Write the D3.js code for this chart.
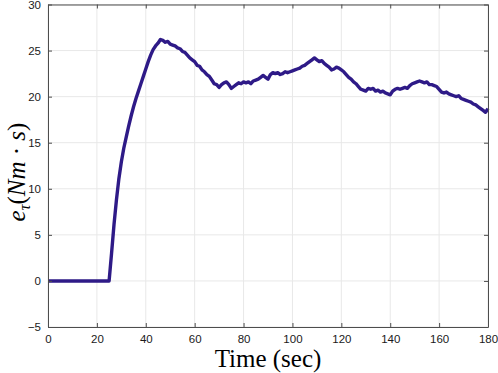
<!DOCTYPE html>
<html>
<head>
<meta charset="utf-8">
<script src="https://cdn.jsdelivr.net/npm/d3@7"></script>
<style>
  body { margin: 0; background: #fff; }
  svg text { font-family: "Liberation Sans", Arial, sans-serif; }
</style>
</head>
<body>
<div id="chart"></div>
<script>
// time (sec) and error values
var times = [0, 25, 26, 27, 28, 29, 30, 31, 32, 33, 34, 35, 36, 37, 38, 39, 40,
  41, 42, 43, 44, 45, 46, 47, 48, 49, 50, 51, 52, 53, 54, 55, 56, 57, 58, 59, 60,
  61, 62, 63, 64, 65, 66, 67, 68, 69, 70, 71, 72, 73, 74, 75, 76, 77, 78, 79, 80,
  81, 82, 83, 84, 85, 86, 87, 88, 89, 90, 91, 92, 93, 94, 95, 96, 97, 98, 99, 100,
  101, 102, 103, 104, 105, 106, 107, 108, 109, 110, 111, 112, 113, 114, 115, 116, 117, 118, 119, 120,
  121, 122, 123, 124, 125, 126, 127, 128, 129, 130, 131, 132, 133, 134, 135, 136, 137, 138, 139, 140,
  141, 142, 143, 144, 145, 146, 147, 148, 149, 150, 151, 152, 153, 154, 155, 156, 157, 158, 159, 160,
  161, 162, 163, 164, 165, 166, 167, 168, 169, 170, 171, 172, 173, 174, 175, 176, 177, 178, 179, 180];

var errTau = [0, 0, 3.0, 6.1, 8.8, 11.1, 12.9, 14.4, 15.6, 16.8, 17.9, 18.9, 19.8, 20.6, 21.4, 22.2, 23.0,
  23.8, 24.5, 25.1, 25.5, 25.8, 26.2, 26.1, 25.9, 26.0, 25.7, 25.6, 25.5, 25.3, 25.2, 24.9, 24.8, 24.5, 24.2, 24.0, 23.8,
  23.4, 23.3, 22.9, 22.7, 22.4, 22.2, 21.8, 21.4, 21.3, 21.0, 21.3, 21.5, 21.6, 21.3, 20.9, 21.1, 21.3, 21.5, 21.4, 21.6,
  21.5, 21.6, 21.4, 21.7, 21.8, 21.9, 22.1, 22.3, 22.1, 21.9, 22.4, 22.6, 22.5, 22.6, 22.4, 22.5, 22.7, 22.6, 22.7, 22.8,
  22.9, 23.0, 23.1, 23.3, 23.4, 23.6, 23.8, 24.0, 24.2, 24.0, 23.8, 23.9, 23.6, 23.4, 23.2, 22.9, 23.0, 23.2, 23.1, 22.9,
  22.7, 22.4, 22.1, 21.9, 21.6, 21.4, 21.1, 20.8, 20.7, 20.6, 20.9, 20.8, 20.9, 20.6, 20.7, 20.5, 20.6, 20.4, 20.3, 20.2,
  20.6, 20.8, 20.9, 20.8, 20.9, 21.0, 20.9, 21.2, 21.4, 21.5, 21.6, 21.7, 21.6, 21.5, 21.6, 21.3, 21.3, 21.2, 21.1, 20.8,
  20.5, 20.4, 20.5, 20.3, 20.2, 20.1, 20.0, 20.1, 19.8, 19.7, 19.6, 19.5, 19.4, 19.2, 19.1, 18.9, 18.7, 18.5, 18.3, 18.7];

var xTicks = [0, 20, 40, 60, 80, 100, 120, 140, 160, 180];
var yTicks = [-5, 0, 5, 10, 15, 20, 25, 30];

var margin = {top: 4.5, right: 10, bottom: 46, left: 48},
    width = 498 - margin.left - margin.right,
    height = 373 - margin.top - margin.bottom;

var svg = d3.select("#chart").append("svg")
    .attr("width", 498)
    .attr("height", 373);

var g = svg.append("g")
    .attr("transform", "translate(" + margin.left + "," + margin.top + ")");

var x = d3.scaleLinear().domain([0, 180]).range([0, width]);
var y = d3.scaleLinear().domain([-5, 30]).range([height, 0]);

// grid
g.append("g").selectAll("line")
    .data(xTicks)
    .enter().append("line")
    .attr("x1", function(d) { return x(d); })
    .attr("x2", function(d) { return x(d); })
    .attr("y1", 0).attr("y2", height)
    .attr("stroke", "#e8e8e8");

g.append("g").selectAll("line")
    .data(yTicks)
    .enter().append("line")
    .attr("y1", function(d) { return y(d); })
    .attr("y2", function(d) { return y(d); })
    .attr("x1", 0).attr("x2", width)
    .attr("stroke", "#e8e8e8");

// data line
var line = d3.line()
    .x(function(d, i) { return x(times[i]); })
    .y(function(d) { return y(d); });

g.append("path")
    .datum(errTau)
    .attr("d", line)
    .attr("fill", "none")
    .attr("stroke", "#2e1a87")
    .attr("stroke-width", 3.4)
    .attr("stroke-linejoin", "round");

// axes, ticks inward on all sides (box)
var axisColor = "#4d4d4d";

var xBottom = g.append("g")
    .attr("transform", "translate(0," + height + ")")
    .call(d3.axisBottom(x).tickValues(xTicks).tickSizeInner(-4).tickSizeOuter(0).tickPadding(8));
var xTop = g.append("g")
    .call(d3.axisTop(x).tickValues(xTicks).tickSizeInner(-4).tickSizeOuter(0).tickFormat(""));
var yLeft = g.append("g")
    .call(d3.axisLeft(y).tickValues(yTicks).tickSizeInner(-4).tickSizeOuter(0).tickPadding(7));
var yRight = g.append("g")
    .attr("transform", "translate(" + width + ",0)")
    .call(d3.axisRight(y).tickValues(yTicks).tickSizeInner(-4).tickSizeOuter(0).tickFormat(""));

[xBottom, xTop, yLeft, yRight].forEach(function(a) {
    a.select(".domain").attr("stroke", axisColor);
    a.selectAll(".tick line").attr("stroke", axisColor);
    a.selectAll(".tick text")
        .attr("fill", "#1a1a1a")
        .style("font-size", "11.5px")
        .style("font-family", "'Liberation Sans', Arial, sans-serif");
});

// axis labels
svg.append("text")
    .attr("x", margin.left + width / 2)
    .attr("y", 367)
    .attr("text-anchor", "middle")
    .style("font-family", "'Liberation Serif', 'Times New Roman', serif")
    .style("font-size", "25px")
    .attr("fill", "#000")
    .text("Time (sec)");

var yl = svg.append("text")
    .attr("transform", "translate(25,172) rotate(-90)")
    .attr("text-anchor", "middle")
    .style("font-family", "'Liberation Serif', 'Times New Roman', serif")
    .style("font-size", "25px")
    .attr("fill", "#000");
yl.append("tspan").style("font-style", "italic").text("e");
yl.append("tspan").style("font-style", "italic").style("font-size", "16px").attr("dy", 5).text("τ");
yl.append("tspan").attr("dy", -5).text("(");
yl.append("tspan").style("font-style", "italic").text("Nm");
yl.append("tspan").text(" · ");
yl.append("tspan").style("font-style", "italic").text("s");
yl.append("tspan").text(")");
</script>
</body>
</html>
